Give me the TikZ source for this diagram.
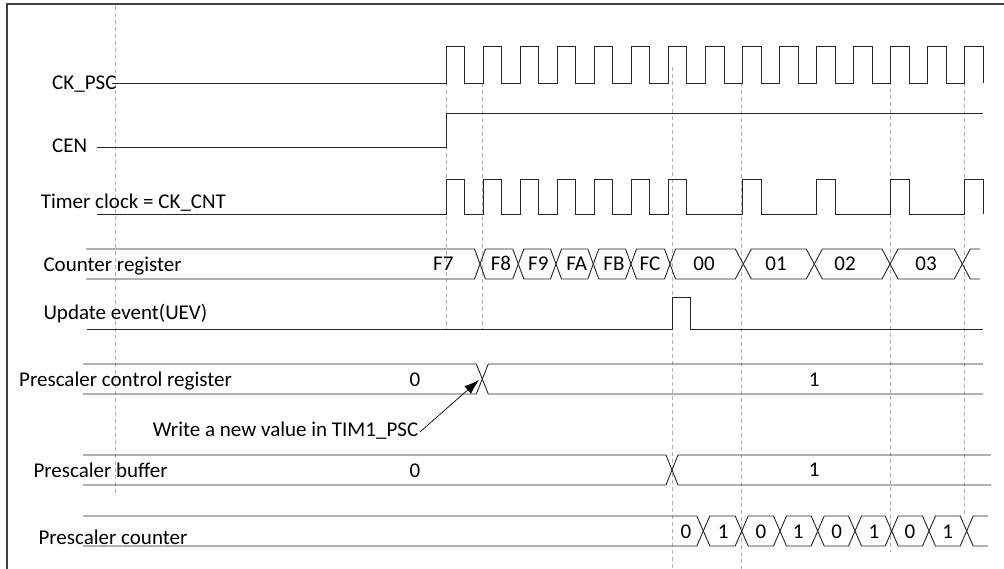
\documentclass[tikz,border=0pt]{standalone}
\usepackage{fontspec}
\setmainfont{Carlito}
\usetikzlibrary{arrows.meta}
\begin{document}
\begin{tikzpicture}[x=1pt,y=-1pt,
  wave/.style={line width=0.9pt, draw=black!85},
  bus/.style={line width=0.9pt, draw=black!85},
  guide/.style={draw=black!30, line width=0.7pt, dash pattern=on 4pt off 3pt},
  lbl/.style={inner sep=0pt, anchor=base west, font=\fontsize{21}{25}\selectfont},
  val/.style={inner sep=0pt, anchor=base, font=\fontsize{21}{25}\selectfont},
  frameline/.style={draw=black!75, line width=1.2pt}]
\useasboundingbox (0,0) rectangle (1004,569);

% frame
\draw[frameline] (7,569) -- (7,4) -- (1004,4);

% dashed guides
\foreach \x/\a/\b in {115/6/493, 446/83/329, 482.5/83/329, 672/67/569, 741/83/569, 890.7/60/552, 964/83/517}
  \draw[guide] (\x,\a) -- (\x,\b);

% signal labels
\node[lbl] (lckpsc) at (52,89.3) {CK\_PSC};
\node[lbl] (lcen) at (52,152.7) {CEN};
\node[lbl] (ltim) at (40.7,208.3) {Timer clock = CK\_CNT};
\node[lbl] (lcnt) at (43.3,271.7) {Counter register};
\node[lbl] (luev) at (43.3,319.3) {Update event(UEV)};
\node[lbl] (lpcr) at (19,386.7) {Prescaler control register};
\node[lbl] (wnv) at (152.7,436.7) {Write a new value in TIM1\_PSC};
\node[lbl] (lpb) at (33.3,477.3) {Prescaler buffer};
\node[lbl] (lpc) at (38.3,544.3) {Prescaler counter};

% CK_PSC
\draw[wave] (112,83) foreach \k in {0,...,14} { -- ({446+\k*37.05},83) -- ++(0,-37) -- ++(18.6,0) -- ++(0,37) };

% CEN
\draw[wave] (97,147.5) -- (446,147.5) -- (446,113.3) -- (983,113.3);

% Timer clock
\draw[wave] (97,214.5) foreach \k in {0,1,2,3,4,5,6,8,10,12,14} { -- ({446+\k*37.05},214.5) -- ++(0,-35.5) -- ++(18.6,0) -- ++(0,35.5) };

% Counter register
\draw[bus] (86,249) -- (474.5,249) -- (480,264) -- (474.5,279) -- (86,279);
\foreach \l/\hl/\r/\hr in {480/5.5/518.3/5.5, 518.3/5.5/556/5.5, 556/5.5/593.3/5.5, 593.3/5.5/631/5.5, 631/5.5/670/5.5, 670/5.5/743.3/8, 743.3/8/814.3/8, 814.3/8/890/8, 890/8/962.3/8}
  \draw[bus] (\l,264) -- ({\l+\hl},249) -- ({\r-\hr},249) -- (\r,264) -- ({\r-\hr},279) -- ({\l+\hl},279) -- cycle;
\draw[bus] (980,249) -- (970.3,249) -- (962.3,264) -- (970.3,279) -- (980,279);
\foreach \x/\t [count=\i] in {443.3/F7, 501/F8, 538.3/F9, 576.7/FA, 614/FB, 650/FC, 704/00, 776/01, 845/02, 926/03}
  \node[val] (cv\i) at (\x,271) {\t};

% Update event
\draw[wave] (87,329) -- (672,329) -- (672,297.5) -- (690.7,297.5) -- (690.7,329) -- (983,329);

% Prescaler control register
\draw[bus] (83,364) -- (476.3,364) -- (482.3,379) -- (476.3,394) -- (83,394);
\draw[bus] (983,364) -- (488.3,364) -- (482.3,379) -- (488.3,394) -- (983,394);
\node[val] (pcr0) at (415,386.7) {0};
\node[val] (pcr1) at (814.3,386.7) {1};
\coordinate (wtip) at (479,380);
\draw[line width=0.7pt, draw=black, -{Latex[length=15pt,width=10pt]}] ([xshift=1.5pt,yshift=4.7pt]wnv.base east) -- (wtip);

% Prescaler buffer
\draw[bus] (83,455) -- (666,455) -- (672,470) -- (666,485) -- (83,485);
\draw[bus] (991,455) -- (678,455) -- (672,470) -- (678,485) -- (991,485);
\node[val] (pb0) at (415,477.3) {0};
\node[val] (pb1) at (814.3,476.7) {1};

% Prescaler counter
\draw[bus] (83,516) -- (696.8,516) -- (703.3,531) -- (696.8,546) -- (83,546);
\foreach \l/\r in {703.3/741.7, 741.7/780, 780/817.7, 817.7/855, 855/891.7, 891.7/929, 929/966.7}
  \draw[bus] (\l,531) -- ({\l+6.5},516) -- ({\r-6.5},516) -- (\r,531) -- ({\r-6.5},546) -- ({\l+6.5},546) -- cycle;
\draw[bus] (988,516) -- (973.2,516) -- (966.7,531) -- (973.2,546) -- (988,546);
\foreach \x/\t [count=\i] in {686/0, 723.3/1, 761/0, 798.3/1, 836.7/0, 874/1, 910/0, 947.7/1}
  \node[val] (pv\i) at (\x,538.3) {\t};
\end{tikzpicture}
\end{document}
